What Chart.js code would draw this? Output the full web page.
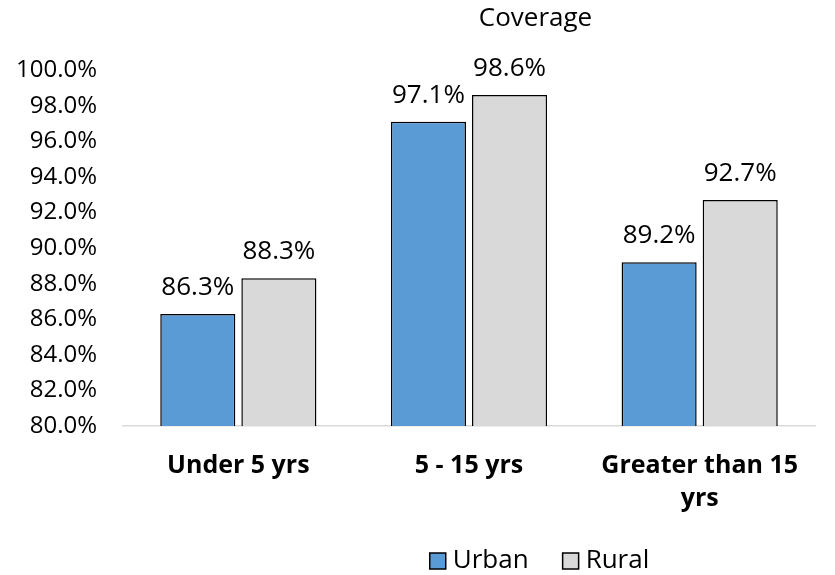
<!DOCTYPE html>
<html>
<head>
<meta charset="utf-8">
<script src="https://cdn.jsdelivr.net/npm/chart.js@4.4.1/dist/chart.umd.min.js"></script>
<style>
  html, body { margin: 0; padding: 0; background: #ffffff; }
  #wrap { width: 835px; height: 575px; position: relative; }
</style>
</head>
<body>
<div id="wrap"><canvas id="c" width="835" height="575"></canvas></div>
<script>
const chartTitle = 'Coverage';
const categories = [['Under 5 yrs'], ['5 - 15 yrs'], ['Greater than 15', 'yrs']];
const seriesNames = ['Urban', 'Rural'];
const urbanValues = [86.3, 97.1, 89.2];
const ruralValues = [88.3, 98.6, 92.7];
const yTickMin = 80;
const yTickMax = 100;
const yTickStep = 2;

const FONT = "'Open Sans', 'Noto Sans', sans-serif";

const valueLabels = {
  id: 'valueLabels',
  afterDatasetsDraw(chart) {
    const ctx = chart.ctx;
    ctx.save();
    ctx.font = '26px ' + FONT;
    ctx.fillStyle = '#000000';
    ctx.textAlign = 'center';
    ctx.textBaseline = 'alphabetic';
    chart.data.datasets.forEach((ds, i) => {
      const meta = chart.getDatasetMeta(i);
      meta.data.forEach((el, j) => {
        ctx.fillText(ds.data[j].toFixed(1) + '%', el.x, el.y - 19);
      });
    });
    ctx.restore();
  }
};

const shiftTitle = {
  id: 'shiftTitle',
  afterLayout(chart) {
    if (chart.titleBlock) { chart.titleBlock.left += 128; chart.titleBlock.right += 128; }
  }
};

const bottomLegend = {
  id: 'bottomLegend',
  afterDraw(chart) {
    const ctx = chart.ctx;
    const box = 16, gapText = 7, gapItem = 34;
    ctx.save();
    ctx.font = '26px ' + FONT;
    const items = chart.data.datasets.map(ds => ({
      text: ds.label, fill: ds.backgroundColor, stroke: ds.borderColor,
      w: ctx.measureText(ds.label).width
    }));
    let total = 0;
    items.forEach((it, i) => { total += box + gapText + it.w + (i < items.length - 1 ? gapItem : 0); });
    let x = chart.width / 2 + 122 - total / 2;
    const cy = 561;
    ctx.textBaseline = 'middle';
    ctx.textAlign = 'left';
    items.forEach(it => {
      ctx.fillStyle = it.fill;
      ctx.fillRect(x, cy - box / 2, box, box);
      ctx.lineWidth = 1.5;
      ctx.strokeStyle = it.stroke;
      ctx.strokeRect(x, cy - box / 2, box, box);
      ctx.fillStyle = '#000000';
      ctx.fillText(it.text, x + box + gapText, cy);
      x += box + gapText + it.w + gapItem;
    });
    ctx.restore();
  }
};

new Chart(document.getElementById('c'), {
  type: 'bar',
  data: {
    labels: categories,
    datasets: [
      { label: seriesNames[0], data: urbanValues, backgroundColor: '#5B9BD5', borderColor: '#000000', borderWidth: 1.5,
        categoryPercentage: 0.703, barPercentage: 0.926 },
      { label: seriesNames[1], data: ruralValues, backgroundColor: '#D9D9D9', borderColor: '#000000', borderWidth: 1.5,
        categoryPercentage: 0.703, barPercentage: 0.926 }
    ]
  },
  options: {
    responsive: false,
    animation: false,
    layout: { padding: { left: 0, right: 20, top: 0, bottom: 31 } },
    plugins: {
      title: {
        display: true, text: chartTitle, color: '#000000',
        font: { family: FONT, size: 26, weight: 'normal', lineHeight: 1.2 },
        padding: { top: 3, bottom: 36 }
      },
      legend: { display: false },
      tooltip: { enabled: false }
    },
    scales: {
      x: {
        grid: { display: false, drawTicks: false },
        border: { display: true, color: '#D9D9D9', width: 1.5 },
        afterFit(scale) { scale.height = 118; },
        ticks: { color: '#000000', font: { family: FONT, size: 25, weight: 'bold', lineHeight: 1.32 }, padding: 23, maxRotation: 0, autoSkip: false }
      },
      y: {
        min: yTickMin, max: yTickMax,
        grid: { display: false, drawTicks: false },
        border: { display: false },
        afterFit(scale) { scale.width = 123; },
        ticks: {
          stepSize: yTickStep, padding: 26, color: '#000000',
          font: { family: FONT, size: 24 },
          callback: (v) => v.toFixed(1) + '%'
        }
      }
    }
  },
  plugins: [valueLabels, shiftTitle, bottomLegend]
});
</script>
</body>
</html>
